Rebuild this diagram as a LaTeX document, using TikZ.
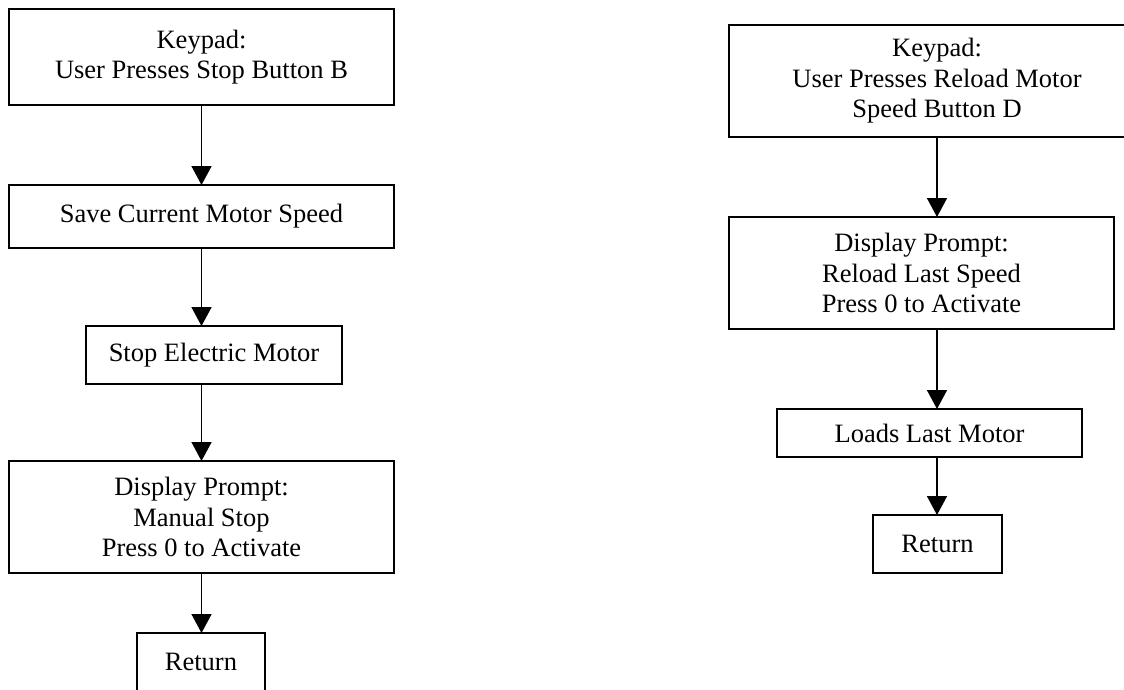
\documentclass[tikz,border=0pt]{standalone}
\usepackage{fontspec}
\setmainfont{Liberation Serif}
\usetikzlibrary{arrows.meta,positioning,calc}
\newcommand{\flowfont}{\fontsize{26.5}{30.5}\selectfont}
\tikzset{
  procbox/.style={draw, line width=1.6pt, inner sep=0pt, outer sep=0pt, align=center, font=\flowfont},
  flowarr/.style={-{Triangle[length=19pt, width=20pt]}, line width=1.6pt},
}

\begin{document}
\begin{tikzpicture}[x=1pt,y=-1pt]
\useasboundingbox (0,0) rectangle (1124,689);

% ============ left chart: stop button ===============
\node[procbox, minimum width=385pt, minimum height=96pt] (keyB) at (201.5,57)
  {Keypad:\\User Presses Stop Button B};
\node[procbox, minimum width=385pt, minimum height=63pt] (save) at (201.5,216.5)
  {Save Current Motor Speed};
\node[procbox, minimum width=256pt, minimum height=58pt] (stopm) at (214,355)
  {Stop Electric Motor};
\node[procbox, minimum width=385pt, minimum height=112pt] (promptL) at (201.5,517)
  {Display Prompt:\\Manual Stop\\Press 0 to Activate};
\node[procbox, minimum width=128pt, minimum height=58pt] (retL) at (201,662)
  {Return};
\draw[flowarr] (keyB.south) -- (keyB.south |- save.north);
\draw[flowarr] (save.south) -- (save.south |- stopm.north);
\draw[flowarr] (promptL.north |- stopm.south) -- (promptL.north);
\draw[flowarr] (promptL.south) -- (promptL.south |- retL.north);

% ============ right chart: reload speed ===============
\node[procbox, minimum width=416pt, minimum height=112pt] (keyD) at (937,81)
  {Keypad:\\User Presses Reload Motor\\Speed Button D};
\node[procbox, minimum width=385pt, minimum height=112pt] (promptR) at (921.5,273)
  {Display Prompt:\\Reload Last Speed\\Press 0 to Activate};
\node[procbox, minimum width=305pt, minimum height=48pt] (loadm) at (929.5,433)
  {Loads Last Motor};
\node[procbox, minimum width=129pt, minimum height=58pt] (retR) at (937.5,544)
  {Return};
\draw[flowarr] (keyD.south) -- (keyD.south |- promptR.north);
\draw[flowarr] (promptR.south -| keyD.south) -- (keyD.south |- loadm.north);
\draw[flowarr] (keyD.south |- loadm.south) -- (keyD.south |- retR.north);

\end{tikzpicture}
\end{document}
